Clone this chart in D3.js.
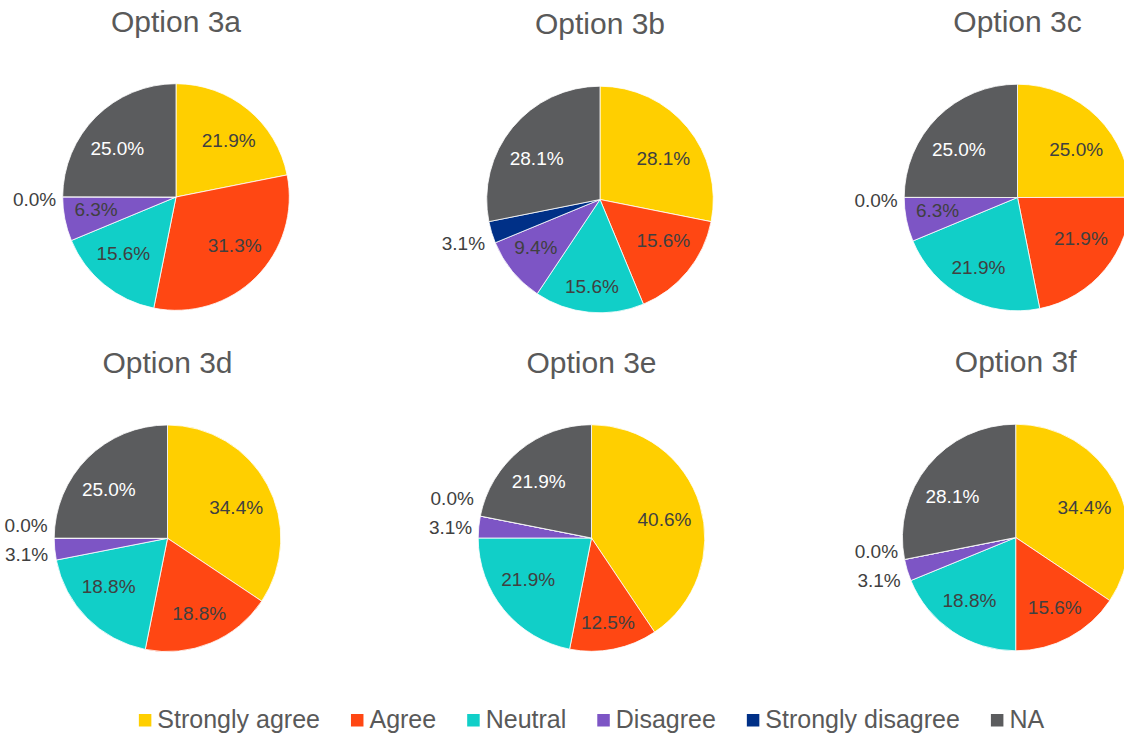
<!DOCTYPE html>
<html>
<head>
<meta charset="utf-8">
<script src="https://cdn.jsdelivr.net/npm/d3@7"></script>
<style>
  html, body { margin: 0; padding: 0; background: #ffffff; }
  svg { display: block; font-family: "Liberation Sans", Arial, sans-serif; }
</style>
</head>
<body>
<svg id="chart" width="1124" height="735"></svg>
<script>
// Response categories, in clockwise slice order starting at 12 o'clock
const categories = ["Strongly agree", "Agree", "Neutral", "Disagree", "Strongly disagree", "NA"];
const palette = ["#FFCF00", "#FF4713", "#11CFC8", "#7D55C5", "#003087", "#5B5C5E"];

// Chart titles
const options = ["Option 3a", "Option 3b", "Option 3c", "Option 3d", "Option 3e", "Option 3f"];

// Share of responses (%) per category for each option
const option3a = [21.9, 31.3, 15.6, 6.3, 0.0, 25.0];
const option3b = [28.1, 15.6, 15.6, 9.4, 3.1, 28.1];
const option3c = [25.0, 21.9, 21.9, 6.3, 0.0, 25.0];
const option3d = [34.4, 18.8, 18.8, 3.1, 0.0, 25.0];
const option3e = [40.6, 12.5, 21.9, 3.1, 0.0, 21.9];
const option3f = [34.4, 15.6, 18.8, 3.1, 0.0, 28.1];
const seriesValues = [option3a, option3b, option3c, option3d, option3e, option3f];

// Layout: pie centres on a 3 x 2 grid
const pieCenters = [
  [176, 197], [600, 199.5], [1017.5, 197.5],
  [167.5, 538.3], [591.5, 538], [1015.7, 537.5]
];
const radius = 113.3;
const titleOffset = -165.5;   // baseline of title relative to pie centre
const textDark = "#404040";
const titleColor = "#595959";

const svg = d3.select("#chart");

const pie = d3.pie().sort(null).value(d => d);
const arc = d3.arc().innerRadius(0).outerRadius(radius);
const fmt = d3.format(".1f");

// Best-fit position of a label inside its slice: start from an ellipse
// around the centre, then push the label box out until it meets an inner rim.
function insideCenter(theta, w, h) {
  const rho = radius - 9;
  const A = radius * 0.733, B = radius * 0.574;
  const s = Math.sin(theta), c = -Math.cos(theta);
  const yB = B * Math.abs(c);
  const xMax = Math.sqrt(Math.max(0, rho * rho - (yB + h / 2) ** 2)) - w / 2;
  const x = Math.max(0, Math.min(A * Math.abs(s), xMax));
  const yFit = Math.sqrt(Math.max(0, rho * rho - (x + w / 2) ** 2)) - h / 2;
  const y = Math.max(yFit, yB);
  return [Math.sign(s) * x, (c < 0 ? -1 : 1) * y];
}

seriesValues.forEach((vals, i) => {
  const [cx, cy] = pieCenters[i];
  const g = svg.append("g").attr("transform", `translate(${cx},${cy})`);

  g.append("text")
    .attr("x", 0)
    .attr("y", titleOffset)
    .attr("text-anchor", "middle")
    .attr("font-size", 30)
    .attr("fill", titleColor)
    .text(options[i]);

  const arcs = pie(vals);

  g.selectAll("path.slice")
    .data(arcs)
    .join("path")
    .attr("class", "slice")
    .attr("d", arc)
    .attr("fill", (d, k) => palette[k])
    .attr("stroke", "#ffffff")
    .attr("stroke-width", 0.8)
    .attr("stroke-linejoin", "round");

  const labelH = 22;
  const placedOutside = [];

  arcs.forEach((d, k) => {
    const theta = (d.startAngle + d.endAngle) / 2;
    const txt = g.append("text")
      .attr("font-size", 19)
      .attr("text-anchor", "middle")
      .attr("dy", "0.35em")
      .text(fmt(d.data) + "%");
    const w = txt.node().getComputedTextLength();

    if (d.data >= 5) {
      const [lx, ly] = insideCenter(theta, w, labelH);
      txt.attr("x", lx).attr("y", ly)
        .attr("fill", k === categories.length - 1 ? "#ffffff" : textDark);
    } else {
      // small slices: label just outside the rim, stacked if they collide
      const sx = Math.sin(theta), sy = -Math.cos(theta);
      const ex = radius * sx, ey = radius * sy;
      const side = sx < 0 ? -1 : 1;
      const shift = Math.max(-labelH / 2, Math.min(labelH / 2, 2.8 + 27 * sy));
      let ly = ey + shift;
      placedOutside.forEach(p => {
        if (p.side === side && Math.abs(p.y - ly) < 29) ly = p.y - 29;
      });
      placedOutside.push({ side, y: ly });
      txt.attr("text-anchor", side < 0 ? "end" : "start")
        .attr("x", ex + side * 6.5)
        .attr("y", ly)
        .attr("fill", textDark);
    }
  });
});

// Legend along the bottom
const legend = svg.append("g");
const legendItems = legend.selectAll("g.item")
  .data(categories)
  .join("g")
  .attr("class", "item");

legendItems.append("rect")
  .attr("width", 12.5)
  .attr("height", 12.5)
  .attr("y", 714)
  .attr("fill", (d, k) => palette[k]);

legendItems.append("text")
  .attr("font-size", 25)
  .attr("fill", titleColor)
  .attr("y", 728)
  .text(d => d);

const swatch = 12.5, gapText = 6, gapItem = 31;
const widths = [];
legendItems.selectAll("text").each(function () {
  widths.push(this.getComputedTextLength());
});
const total = d3.sum(widths) + categories.length * (swatch + gapText) + (categories.length - 1) * gapItem;
let xPos = 591.5 - total / 2;
legendItems.each(function (d, k) {
  const item = d3.select(this);
  item.select("rect").attr("x", xPos);
  item.select("text").attr("x", xPos + swatch + gapText);
  xPos += swatch + gapText + widths[k] + gapItem;
});
</script>
</body>
</html>
